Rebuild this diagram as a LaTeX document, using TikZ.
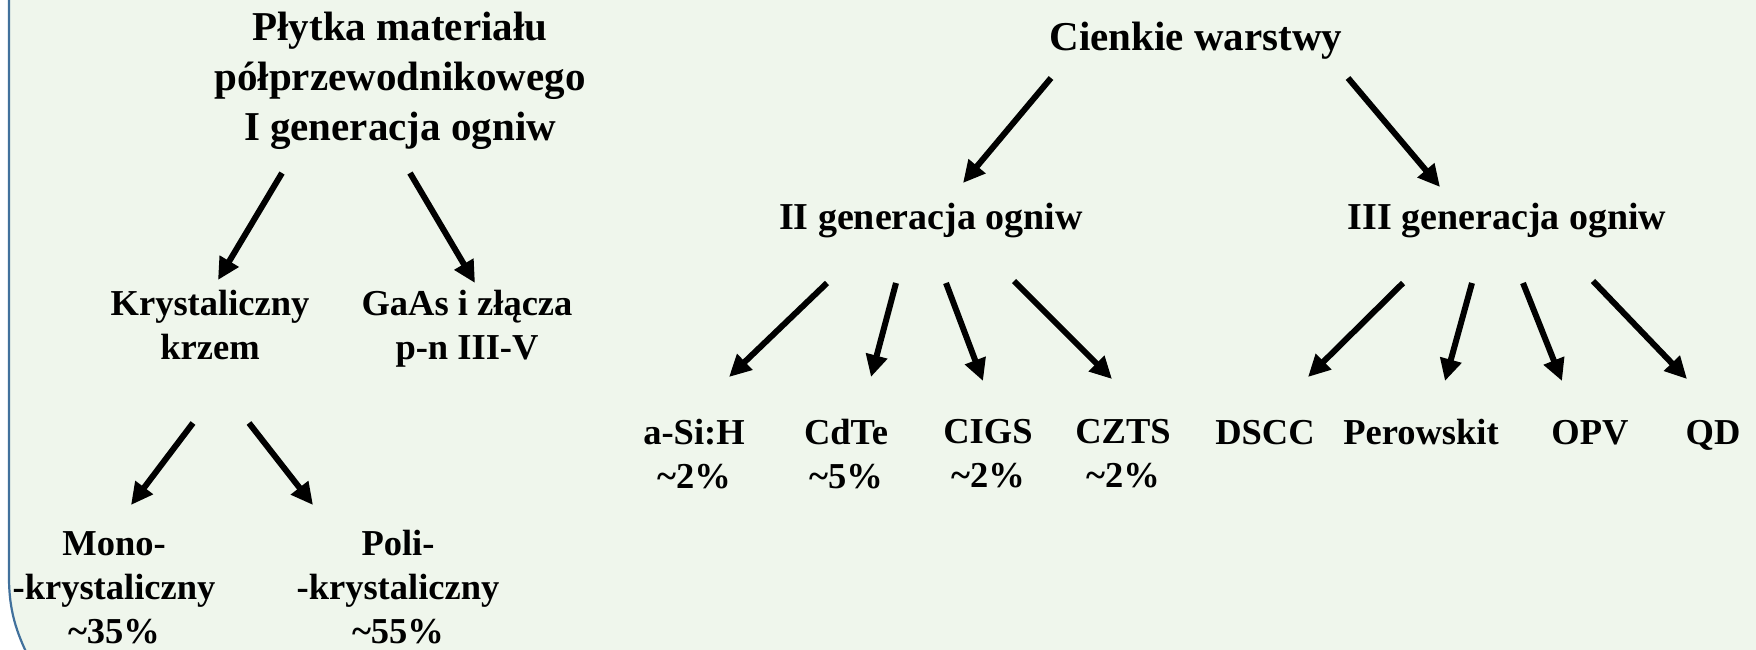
\documentclass[tikz,border=0pt]{standalone}
\usepackage{fontspec}
\setmainfont{Liberation Serif}
\usetikzlibrary{arrows.meta}
\definecolor{panelgreen}{RGB}{239,246,236}
\definecolor{frameblue}{RGB}{65,113,156}

\begin{document}
\begin{tikzpicture}[x=1pt,y=-1pt,
  lbl/.style={font=\fontsize{36.5}{44}\selectfont\bfseries, align=center, inner sep=0pt, anchor=north},
  lblbase/.style={font=\fontsize{36.5}{44}\selectfont\bfseries, inner sep=0pt, anchor=base},
  ttl/.style={font=\fontsize{41}{50}\selectfont\bfseries, align=center, inner sep=0pt, anchor=north},
  hd/.style={font=\fontsize{38}{42}\selectfont\bfseries, inner sep=0pt, anchor=base},
  bighd/.style={font=\fontsize{41}{50}\selectfont\bfseries, inner sep=0pt, anchor=base},
  arr/.style={line width=6pt, -{Triangle[length=22pt,width=21pt]}},
]
\useasboundingbox (0,0) rectangle (1756,649);
% panel background and its rounded left edge
\fill[white] (0,0) rectangle (1756,649);
\fill[panelgreen] (9,-5) -- (9,577) .. controls (9,610) and (16,632) .. (30,660)
  -- (1760,660) -- (1760,-5) -- cycle;
\draw[frameblue, line width=2.2pt] (9,-5) -- (9,577) .. controls (9,610) and (16,632) .. (30,660);

% ---- first generation: wafer based cells
\node[ttl] (wafer) at (400,12) {Płytka materiału\\półprzewodnikowego\\I generacja ogniw};
\node[lbl] (krzem) at (210,290) {Krystaliczny\\krzem};
\node[lbl] (gaas) at (467,290) {GaAs i złącza\\p-n III-V};
\node[lbl] (mono) at (114,531) {Mono-\\-krystaliczny\\\textasciitilde35\%};
\node[lbl] (poli) at (398,530) {Poli-\\-krystaliczny\\\textasciitilde55\%};

\coordinate (wA) at (282,173); \coordinate (wAe) at (218,280);
\coordinate (wB) at (410,173); \coordinate (wBe) at (475,283);
\coordinate (kA) at (193,423); \coordinate (kAe) at (131,505);
\coordinate (kB) at (249,423); \coordinate (kBe) at (313,505);
\draw[arr] (wA) -- (wAe);
\draw[arr] (wB) -- (wBe);
\draw[arr] (kA) -- (kAe);
\draw[arr] (kB) -- (kBe);

% ---- thin films: second and third generation
\node[bighd] (thin) at (1196,50) {Cienkie warstwy};
\node[hd] (gen2) at (931,229) {II generacja ogniw};
\node[hd] (gen3) at (1507,229) {III generacja ogniw};

\coordinate (cA) at (1051,78); \coordinate (cAe) at (963,183);
\coordinate (cB) at (1348,78); \coordinate (cBe) at (1440,187);
\draw[arr] (cA) -- (cAe);
\draw[arr] (cB) -- (cBe);

\node[lbl] (asi) at (694,419) {a-Si:H\\\textasciitilde2\%};
\node[lbl] (cdte) at (846,419) {CdTe\\\textasciitilde5\%};
\node[lbl] (cigs) at (988,419) {CIGS\\\textasciitilde2\%};
\node[lbl] (czts) at (1123,419) {CZTS\\\textasciitilde2\%};

\coordinate (g2a) at (827,283);  \coordinate (g2ae) at (729,377);
\coordinate (g2b) at (896,283);  \coordinate (g2be) at (871,377);
\coordinate (g2c) at (946,283);  \coordinate (g2ce) at (983,381);
\coordinate (g2d) at (1014,281); \coordinate (g2de) at (1112,379);
\draw[arr] (g2a) -- (g2ae);
\draw[arr] (g2b) -- (g2be);
\draw[arr] (g2c) -- (g2ce);
\draw[arr] (g2d) -- (g2de);

\node[lblbase] (dscc) at (1265,444) {DSCC};
\node[lblbase] (perow) at (1421,444) {Perowskit};
\node[lblbase] (opv) at (1590,444) {OPV};
\node[lblbase] (qd) at (1713,444) {QD};

\coordinate (g3a) at (1403,283); \coordinate (g3ae) at (1308,377);
\coordinate (g3b) at (1472,283); \coordinate (g3be) at (1445,381);
\coordinate (g3c) at (1523,283); \coordinate (g3ce) at (1562,381);
\coordinate (g3d) at (1593,281); \coordinate (g3de) at (1687,379);
\draw[arr] (g3a) -- (g3ae);
\draw[arr] (g3b) -- (g3be);
\draw[arr] (g3c) -- (g3ce);
\draw[arr] (g3d) -- (g3de);
\end{tikzpicture}
\end{document}
